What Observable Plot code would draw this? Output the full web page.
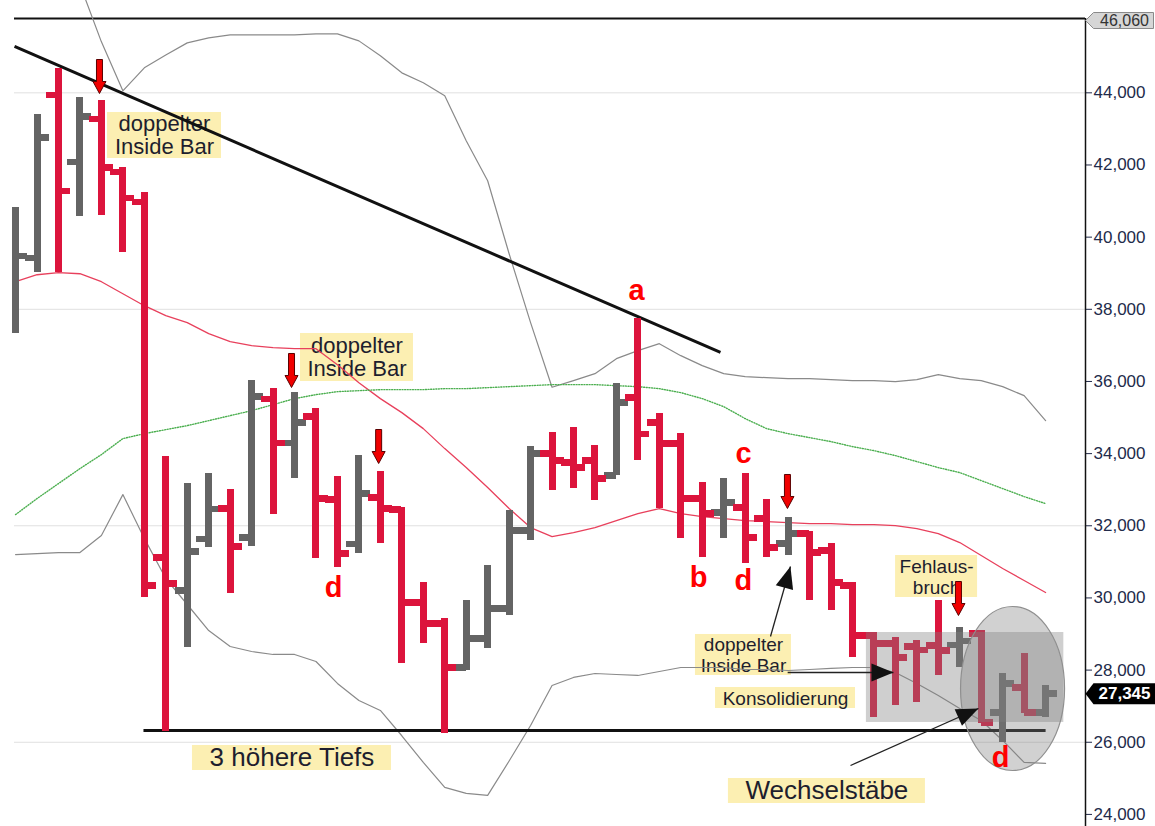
<!DOCTYPE html>
<html><head><meta charset="utf-8">
<script src="https://cdn.jsdelivr.net/npm/d3@7"></script>
<script src="https://cdn.jsdelivr.net/npm/@observablehq/plot@0.6"></script>
<style>html,body{margin:0;padding:0;background:#fff;overflow:hidden}#chart svg{display:block}</style>
</head><body><div id="chart"></div>
<script>
// ---------- DATA ----------
const opens  = [null,39420,43940,42080,43280,41810,40970,31120,30210,31640,32480,31670,35520,34300,35030,32730,31500,32780,32450,29870,29290,28070,28880,29710,31870,34000,33750,33810,33390,35550,34860,34280,32750,32370,32500,32200,31510,31780,31310,30340,28960,28740,28650,28680,28700,29010,26830,27520,26830];
const highs  = [40830,43410,44670,43870,43800,41930,41240,33920,33170,33460,33000,36020,35800,35690,35250,33360,33950,33500,32500,30430,29430,29930,30900,32420,34190,34580,34720,34220,35940,37740,35110,34550,33200,33310,33450,32730,32230,31840,31510,30430,29040,28900,28820,29930,29180,29100,27910,28460,27570];
const lows   = [37320,39030,39010,40560,40610,39580,30020,26300,28640,31390,30120,31420,32310,33300,31090,30840,31230,31500,28180,28740,26240,27990,28600,29510,31590,32980,33030,32700,33390,33810,32480,31650,31120,31650,30950,31120,31180,29930,29650,28350,26690,27020,27100,27850,28070,26520,26000,26800,26690];
const closes = [39480,42760,41280,43340,41930,41090,30350,30400,31290,32470,31420,35580,34300,34860,32750,31230,32890,32480,29870,29290,28070,28880,29710,31870,34000,33810,33610,33310,35410,34550,34280,32750,32340,32640,31670,31400,31780,31260,30430,28960,28740,28350,28560,28540,28800,26550,27630,26830,27345];
const smaRed   = [38765,38958,39014,38986,38765,38432,38100,37823,37629,37324,37103,36992,36936,36909,36909,36466,35967,35524,35136,34693,34139,33613,33060,32477,31950,31700,31811,31950,32144,32338,32477,32338,32255,32200,32144,32116,32089,32061,32061,32033,32033,32006,31923,31784,31535,31175,30815,30483,30150];
const smaGreen = [32310,32754,33170,33585,33973,34416,34554,34665,34776,34914,35053,35191,35358,35524,35635,35718,35745,35773,35773,35773,35801,35801,35829,35856,35884,35912,35912,35912,35884,35856,35801,35690,35524,35302,34970,34693,34554,34444,34333,34195,34083,33945,33779,33613,33474,33252,33031,32809,32615];
const bandUpper = [null,null,null,47000,45413,44055,44693,45050,45385,45523,45607,45607,45607,45607,45634,45634,45440,45025,44554,44277,43917,42670,41562,39540,37630,35840,36022,36216,36632,36853,37047,36715,36438,36216,36133,36105,36078,36078,36050,36022,36022,35994,36050,36189,36078,36022,35856,35607,34914];
const bandLower = [31203,31230,31258,31258,31729,32864,31650,30537,29818,29097,28654,28516,28433,28433,28239,27630,27158,26881,26180,25441,24748,24582,24527,25480,26466,27574,27796,27906,27878,27851,27961,28072,28072,28072,28017,28017,27989,28017,28045,28072,28072,27934,27630,27297,26937,26604,26050,25441,25413];

const yTicks = [24000,26000,28000,30000,32000,34000,36000,38000,40000,42000,44000];
const gridValues = [26000,32000,38000,44000];
const topValue = 46060;
const lastValue = 27345;

const trendLines = [
  {i1:-0.05, v1:45284, i2:32.85, v2:36803},
  {i1:5.96, v1:26326, i2:48.0, v2:26326}
];
const zone = [{i1:39.65, i2:48.85, v1:26548, v2:29042}];
const ellipse = [{i:46.46, v:27490}];
const redArrows = [{i:3.91,v:43981},{i:12.86,v:35833},{i:16.92,v:33726},{i:35.97,v:32479},{i:43.94,v:29513}];
const blackArrows = [
  {i1:35.18, v1:28931, i2:36.11, v2:30872},
  {i1:35.98, v1:27934, i2:40.91, v2:27934},
  {i1:38.91, v1:25356, i2:44.87, v2:26936}
];
const letters = [
  {t:"a", i:28.94, v:38521},{t:"d", i:14.82, v:30289},{t:"b", i:31.83, v:30567},
  {t:"c", i:33.92, v:34003},{t:"d", i:33.92, v:30483},{t:"d", i:45.9, v:25578}
];
const labels = [
  {text:"doppelter\nInside Bar", i:6.94, v:42817},
  {text:"doppelter\nInside Bar", i:15.91, v:36664},
  {text:"doppelter\nInside Bar", i:33.92, v:28419},
  {text:"Konsolidierung", i:35.88, v:27227},
  {text:"Fehlaus-\nbruch", i:42.92, v:30594},
  {text:"3 höhere Tiefs", i:12.88, v:25564},
  {text:"Wechselstäbe", i:37.81, v:24649}
];
// label styles (font size, box w/h in px, line height)
const labelStyle = [
  {size:22, w:114, h:46, lh:1.05},
  {size:22, w:113, h:48, lh:1.05},
  {size:19, w:96, h:41, lh:1.1},
  {size:19, w:140, h:21, lh:1.1},
  {size:19, w:82, h:42, lh:1.1},
  {size:26, w:199, h:25, lh:1},
  {size:26, w:197, h:25, lh:1}
];

// ---------- LAYOUT ----------
const W = 1155, H = 826, ML = 14, MR = 70, MT = 18, MB = 0;
const xDomain = [-0.05, 49.86];
const yDomain = [23665, 46060];
const sx = d3.scaleLinear(xDomain, [ML, W - MR]);
const sy = d3.scaleLinear(yDomain, [H - MB, MT]);
const FONT = "Liberation Sans, Arial, sans-serif";
const RED = "#dc143c", GRAY = "#646464";
const TICK = 0.56;

const bars = closes.map((c, i) => ({i, open: opens[i], high: highs[i], low: lows[i], close: c, up: c >= opens[i]}));
const upBars = bars.filter(d => d.up), downBars = bars.filter(d => !d.up);
const series = (arr) => arr.map((v, i) => ({i, v}));

const boxes = labels.map((d, k) => {
  const s = labelStyle[k];
  return {x1: sx.invert(sx(d.i) - s.w/2), x2: sx.invert(sx(d.i) + s.w/2),
          y1: sy.invert(sy(d.v) + s.h/2), y2: sy.invert(sy(d.v) - s.h/2)};
});

// custom symbols
const downArrowSym = {draw(ctx){ctx.moveTo(0,0);ctx.lineTo(-6.5,-12);ctx.lineTo(-3,-12);ctx.lineTo(-3,-34);ctx.lineTo(3,-34);ctx.lineTo(3,-12);ctx.lineTo(6.5,-12);ctx.closePath();}};
function headSym(theta, len, hw){const c=Math.cos(theta), s=Math.sin(theta);return {draw(ctx){const bx=-len*c, by=-len*s;ctx.moveTo(0,0);ctx.lineTo(bx-hw*s,by+hw*c);ctx.lineTo(bx+hw*s,by-hw*c);ctx.closePath();}};}
function ellipseSym(rx, ry){const k=0.5523;return {draw(ctx){ctx.moveTo(rx,0);ctx.bezierCurveTo(rx,ry*k,rx*k,ry,0,ry);ctx.bezierCurveTo(-rx*k,ry,-rx,ry*k,-rx,0);ctx.bezierCurveTo(-rx,-ry*k,-rx*k,-ry,0,-ry);ctx.bezierCurveTo(rx*k,-ry,rx,-ry*k,rx,0);ctx.closePath();}};}
function tagSym(w, h, p){return {draw(ctx){ctx.moveTo(0,0);ctx.lineTo(p,-h/2);ctx.lineTo(w,-h/2);ctx.lineTo(w,h/2);ctx.lineTo(p,h/2);ctx.closePath();}};}

const headMarks = blackArrows.map(d => {
  const th = Math.atan2(sy(d.v2) - sy(d.v1), sx(d.i2) - sx(d.i1));
  return Plot.dot([d], {x: "i2", y: "v2", symbol: headSym(th, 22, 9), fill: "#111", stroke: "none"});
});

const xMax = xDomain[1];
const barOpts = {shapeRendering: "crispEdges"};

const chart = Plot.plot({
  width: W, height: H, marginLeft: ML, marginRight: MR, marginTop: MT, marginBottom: MB,
  style: {fontFamily: FONT, fontSize: "17px", color: "#222a4a", background: "white", overflow: "visible"},
  x: {domain: xDomain, axis: null},
  y: {domain: yDomain, axis: "right", ticks: yTicks, tickFormat: d3.format(","), tickSize: 6, tickPadding: 2, label: null},
  marks: [
    Plot.ruleY(gridValues, {stroke: "#e0e0e0", strokeWidth: 1}),
    Plot.rect(boxes, {x1: "x1", x2: "x2", y1: "y1", y2: "y2", fill: "#fcefb2"}),
    ...labels.map((d, k) => Plot.text([d], {x: "i", y: "v", text: "text", fontSize: labelStyle[k].size, lineHeight: labelStyle[k].lh, fill: "#1e1e2e", fontFamily: FONT})),
    Plot.ruleY([topValue], {stroke: "#111", strokeWidth: 2}),
    Plot.line(series(bandUpper), {x: "i", y: "v", stroke: "#8a8a8a", strokeWidth: 1.2}),
    Plot.line(series(bandLower), {x: "i", y: "v", stroke: "#8a8a8a", strokeWidth: 1.2}),
    Plot.line(series(smaRed), {x: "i", y: "v", stroke: "#e8405c", strokeWidth: 1.3}),
    Plot.line(series(smaGreen), {x: "i", y: "v", stroke: "#4caf50", strokeWidth: 1.4, strokeDasharray: "1,1.6"}),
    Plot.link(trendLines, {x1: "i1", y1: "v1", x2: "i2", y2: "v2", stroke: "#111", strokeWidth: 3}),
    Plot.ruleX(upBars, {x: "i", y1: "low", y2: "high", stroke: GRAY, strokeWidth: 7, ...barOpts}),
    Plot.ruleY(upBars, {y: "open", x1: d => d.i - TICK, x2: d => d.i, stroke: GRAY, strokeWidth: 6.5, ...barOpts}),
    Plot.ruleY(upBars, {y: "close", x1: d => d.i, x2: d => d.i + TICK, stroke: GRAY, strokeWidth: 6.5, ...barOpts}),
    Plot.ruleX(downBars, {x: "i", y1: "low", y2: "high", stroke: RED, strokeWidth: 7, ...barOpts}),
    Plot.ruleY(downBars, {y: "open", x1: d => d.i - TICK, x2: d => d.i, stroke: RED, strokeWidth: 6.5, ...barOpts}),
    Plot.ruleY(downBars, {y: "close", x1: d => d.i, x2: d => d.i + TICK, stroke: RED, strokeWidth: 6.5, ...barOpts}),
    Plot.rect(zone, {x1: "i1", x2: "i2", y1: "v1", y2: "v2", fill: "#808080", fillOpacity: 0.38}),
    Plot.dot(ellipse, {x: "i", y: "v", symbol: ellipseSym(52, 82), fill: "#808080", fillOpacity: 0.36, stroke: "#8f8f8f", strokeWidth: 1.2}),
    Plot.dot(redArrows, {x: "i", y: "v", symbol: downArrowSym, fill: "#f00000", stroke: "#5a0000", strokeWidth: 1}),
    Plot.link(blackArrows, {x1: "i1", y1: "v1", x2: "i2", y2: "v2", stroke: "#222", strokeWidth: 1.3}),
    ...headMarks,
    Plot.text(letters, {x: "i", y: "v", text: "t", fill: "#ff0000", fontSize: 29, fontWeight: "bold", fontFamily: FONT}),
    Plot.ruleX([xMax], {stroke: "#111", strokeWidth: 1.5}),
    Plot.dot([{v: topValue}], {x: () => xMax, y: "v", dy: 2, symbol: tagSym(68, 16, 8), fill: "#d6d6d6", stroke: "#8a8a8a", strokeWidth: 1}),
    Plot.text([{v: topValue}], {x: () => xMax, y: "v", dy: 2, dx: 39, text: d => d3.format(",")(d.v), fontSize: 16, fill: "#333", fontFamily: FONT}),
    Plot.dot([{v: lastValue}], {x: () => xMax, y: "v", symbol: tagSym(70, 21, 8), fill: "#000", stroke: "none"}),
    Plot.text([{v: lastValue}], {x: () => xMax, y: "v", dx: 39, text: d => d3.format(",")(d.v), fontSize: 17, fontWeight: "bold", fill: "#fff", fontFamily: FONT})
  ]
});
document.getElementById("chart").appendChild(chart);
</script></body></html>
